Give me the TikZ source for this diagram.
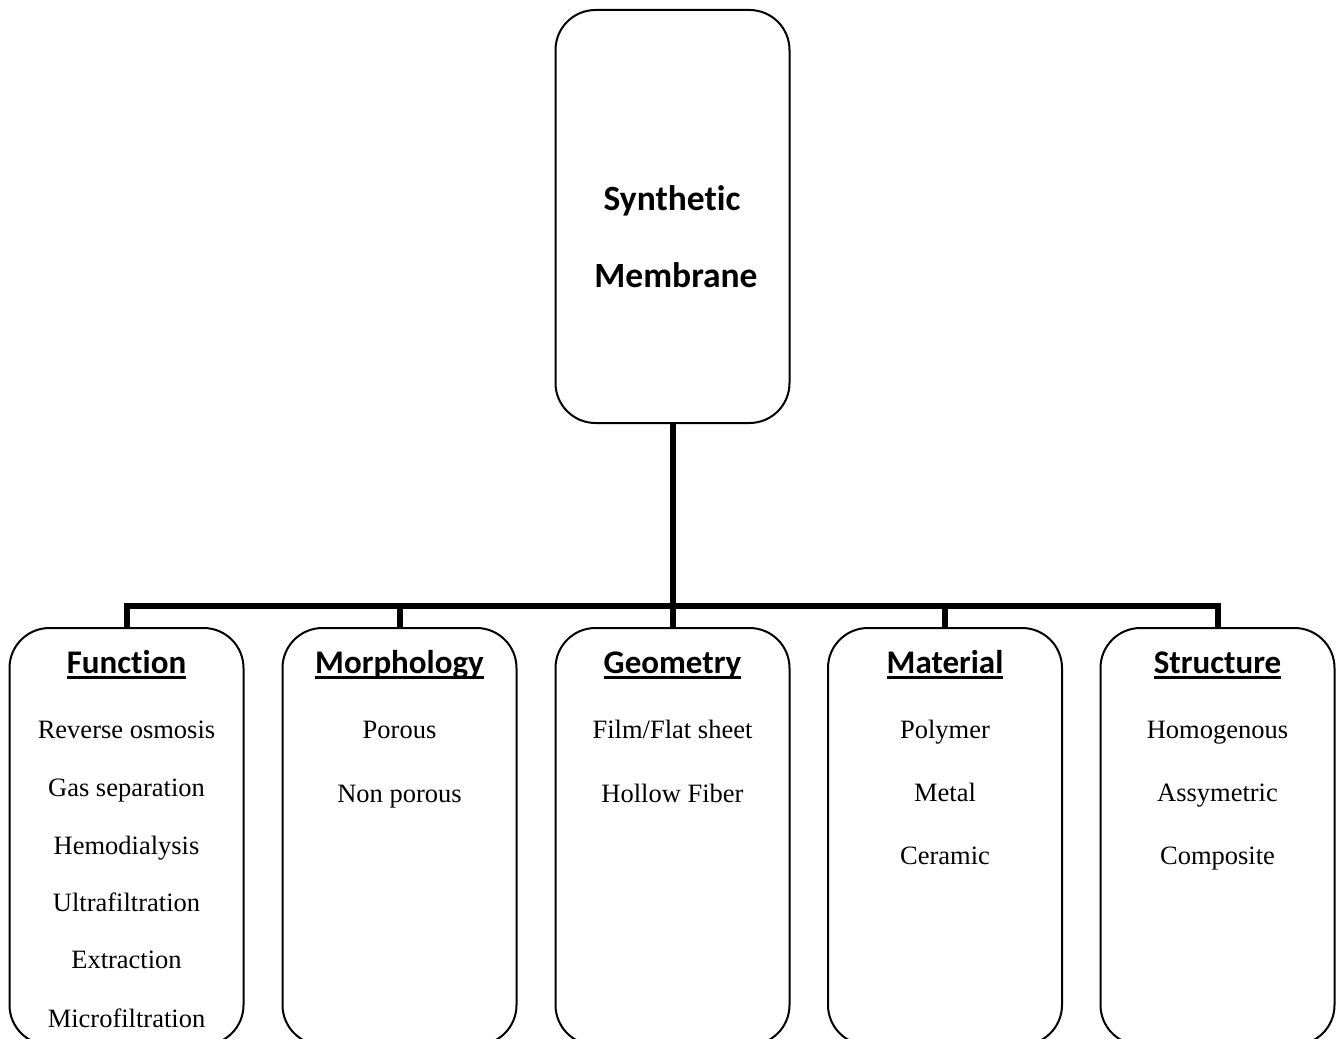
\documentclass[tikz,border=0pt]{standalone}
\usepackage{fontspec}
\setmainfont{Liberation Serif}
\newfontfamily\calib[Ligatures=NoCommon]{Carlito}
\newcommand\hdul[1]{\setbox0\hbox{#1}\rlap{\rule[-6pt]{\wd0}{3pt}}\box0}
\tikzset{
  box/.style={draw, line width=2pt, rounded corners=40pt, minimum width=234pt, inner sep=0pt},
  bottombox/.style={box, minimum height=417pt},
  conn/.style={line width=6pt, line join=miter},
  head/.style={anchor=base, inner sep=0pt, font=\calib\bfseries\fontsize{33}{36}\selectfont},
  title/.style={anchor=base, inner sep=0pt, font=\calib\bfseries\fontsize{35.5}{40}\selectfont},
  item/.style={anchor=base, inner sep=0pt, font=\fontsize{26.5}{30}\selectfont}
}
\begin{document}
\begin{tikzpicture}[x=1pt,y=-1pt]
\useasboundingbox (0,0) rectangle (1340,1038);
\clip (0,0) rectangle (1340,1038);
\fill[white] (0,0) rectangle (1340,1038);
% top box
\node[box, minimum height=413pt] (top) at (672.5,216.5) {};
\node[title] (t1) at (672,210) {Synthetic};
\node[title] (t2) at (676,287) {Membrane};
% bottom boxes
\node[bottombox] (fun) at (126.5,836.5) {};
\node[bottombox] (mor) at (399.5,836.5) {};
\node[bottombox] (geo) at (672.5,836.5) {};
\node[bottombox] (mat) at (945,836.5) {};
\node[bottombox] (str) at (1217.5,836.5) {};
% connectors
\coordinate (j) at (672.5,606);
\draw[conn] (top.south) -- (j);
\draw[conn] (j) -| (fun.north);
\draw[conn] (j) -| (mor.north);
\draw[conn] (j) -- (geo.north);
\draw[conn] (j) -| (mat.north);
\draw[conn] (j) -| (str.north);
% headings
\node[head] (hfun) at (126.5,673) {\hdul{Function}};
\node[head] (hmor) at (399.5,673) {\hdul{Morphology}};
\node[head] (hgeo) at (672.5,673) {\hdul{Geometry}};
\node[head] (hmat) at (945,673) {\hdul{Material}};
\node[head] (hstr) at (1217.5,673) {\hdul{Structure}};
% function items
\node[item] (f1) at (126.5,738) {Reverse osmosis};
\node[item] (f2) at (126.5,796.2) {Gas separation};
\node[item] (f3) at (126.5,854.4) {Hemodialysis};
\node[item] (f4) at (126.5,911.6) {Ultrafiltration};
\node[item] (f5) at (126.5,968.8) {Extraction};
\node[item] (f6) at (126.5,1027) {Microfiltration};
% morphology items
\node[item] (m1) at (399.5,738) {Porous};
\node[item] (m2) at (399.5,802) {Non porous};
% geometry items
\node[item] (g1) at (672.5,738) {Film/Flat sheet};
\node[item] (g2) at (672.5,802) {Hollow Fiber};
% material items
\node[item] (a1) at (945,738) {Polymer};
\node[item] (a2) at (945,801) {Metal};
\node[item] (a3) at (945,864) {Ceramic};
% structure items
\node[item] (s1) at (1217.5,738) {Homogenous};
\node[item] (s2) at (1217.5,801) {Assymetric};
\node[item] (s3) at (1217.5,864) {Composite};
\end{tikzpicture}
\end{document}
